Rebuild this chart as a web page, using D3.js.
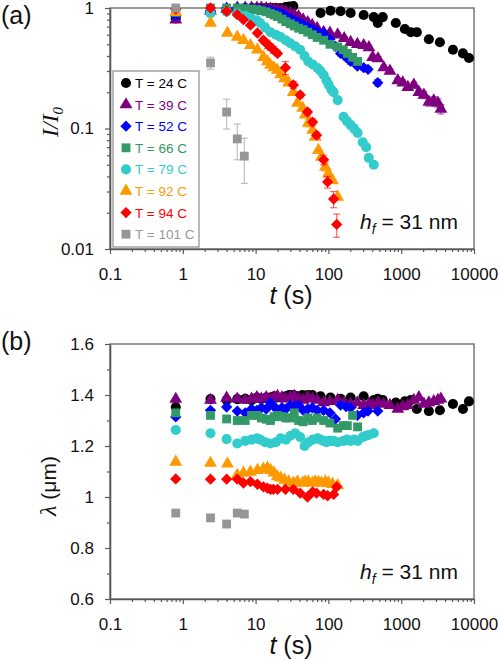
<!DOCTYPE html>
<html><head><meta charset="utf-8">
<script src="https://cdn.jsdelivr.net/npm/d3@7"></script>
<style>
body{margin:0;background:#fff}
svg{display:block}
text{font-family:"Liberation Sans",Arial,sans-serif}
</style>
</head><body>
<svg id="c" width="500" height="661"></svg>
<script>
// ---------- data ----------
const seriesNames = ["T = 24 C","T = 39 C","T = 52 C","T = 66 C","T = 79 C","T = 92 C","T = 94 C","T = 101 C"];
const xTicks = [0.1,1,10,100,1000,10000];
const yTicksTop = [0.01,0.1,1];
const yTicksBottom = [0.6,0.8,1.0,1.2,1.4,1.6];

// T = 24 C
const t24 = [0.8,2.4,4.0,5.6,7.2,8.8,10.4,12,14,16,18,20,23,26,29,33,38,44,52,60,78,107,147,202,305,420,476,558,843,1122,1356,1640,2400,3400,5140,7050,8530];
const I24 = [0.82,0.92,0.97,0.99,1.0,1.0,1.0,1.0,1.0,1.0,1.0,1.0,1.0,1.02,1.03,1.04,null,null,null,null,0.91,0.95,0.94,0.91,0.875,0.84,0.75,0.84,0.75,0.67,0.63,0.63,0.55,0.52,0.45,0.42,0.385];
const L24 = [1.353,1.384,1.38,1.384,1.385,1.38,1.39,1.385,1.39,1.39,1.395,1.39,1.39,1.395,1.40,1.40,1.395,1.40,1.40,1.40,1.395,1.39,1.385,1.39,1.395,1.38,1.385,1.38,1.37,1.375,1.38,1.345,1.337,1.34,1.365,1.345,1.375];

// T = 39 C
const t39 = [0.8,2.4,4.0,5.6,7.2,8.8,10.4,12,14,16,18,20,23,26,30,34,39,45,52,60,70,86,105,134,165,202,250,305,360,406,480,576,700,898,1050,1233,1492,1750,2050,2400,2800,3190,3510];
const I39 = [0.8,0.95,0.98,1.0,1.0,1.0,1.0,1.0,0.99,0.98,0.97,0.96,0.95,0.93,0.91,0.88,0.85,0.8,0.76,0.72,0.68,0.63,0.62,0.60,0.56,0.52,0.5,0.49,0.47,0.39,0.38,0.32,0.3,0.25,0.24,0.22,0.23,0.20,0.19,0.166,0.17,0.163,0.145];
const L39 = [1.384,1.38,1.388,1.385,1.38,1.385,1.39,1.385,1.39,1.385,1.39,1.395,1.39,1.385,1.39,1.395,1.385,1.38,1.39,1.385,1.38,1.37,1.375,1.38,1.37,1.365,1.37,1.36,1.365,1.36,1.37,1.365,1.36,1.345,1.355,1.36,1.38,1.39,1.365,1.37,1.375,1.38,1.385];
const E39 = [0,0,0,0,0,0,0,0,0,0,0,0,0,0,0,0,0,0,0,0,0,0,0,0.02,0.02,0.02,0.02,0.02,0.02,0.015,0.015,0.015,0.012,0.012,0.012,0.012,0.013,0.012,0.013,0.013,0.014,0.013,0.013];

// T = 52 C
const t52 = [0.8,2.4,4.0,5.6,7.2,8.8,10.4,12,14,16,18,20,23,26,30,34,39,45,52,60,70,86,105,125,147,175,202,250,305,350,476];
const I52 = [0.86,0.95,1.0,1.0,1.0,0.99,0.98,0.97,0.96,0.95,0.93,0.92,0.9,0.86,0.82,0.79,0.76,0.73,0.7,0.67,0.64,0.62,0.55,0.48,0.42,0.39,0.36,0.33,0.32,0.31,0.24];
const L52 = [1.314,1.34,1.353,1.337,1.33,1.345,1.34,1.35,1.345,1.37,1.355,1.34,1.35,1.345,1.36,1.355,1.36,1.34,1.345,1.35,1.34,1.34,1.33,1.306,1.36,1.355,1.35,1.32,1.33,1.337,1.337];
const E52 = [0,0,0,0,0,0,0,0,0,0,0,0,0,0,0,0,0,0,0,0,0,0,0,0,0.02,0.02,0.02,0.015,0.015,0.015,0.015];

// T = 66 C
const t66 = [0.8,2.4,4.0,5.6,7.2,8.8,10.4,12,14,16,18,20,23,26,30,34,39,45,52,60,70,86,105,134,160,182,215,252];
const I66 = [0.92,1.0,1.0,1.0,0.99,0.98,0.97,0.95,0.93,0.9,0.875,0.85,0.81,0.77,0.74,0.71,0.68,0.66,0.63,0.6,0.57,0.54,0.5,0.475,0.45,0.42,0.39,0.36];
const L66 = [1.33,1.32,1.306,1.30,1.30,1.32,1.32,1.31,1.305,1.30,1.315,1.32,1.315,1.31,1.31,1.33,1.30,1.295,1.31,1.30,1.31,1.30,1.29,1.27,1.28,1.28,1.32,1.275];

// T = 79 C
const t79 = [0.8,2.4,4.0,5.6,7.2,8.8,10.4,11.6,13.5,16,19,22,26,30,35,41,47,53,61,71,78,86,94,101,110,118,134,162,180,202,225,252,296,330,358,420];
const I79 = [0.97,0.9,0.93,0.9,0.86,0.82,0.79,0.75,0.69,0.63,0.6,0.575,0.54,0.51,0.48,0.45,0.4,0.36,0.34,0.318,0.3,0.278,0.25,0.23,0.21,0.2,0.172,0.125,0.115,0.107,0.1,0.092,0.077,0.07,0.057,0.05];
const L79 = [1.263,1.25,1.227,1.21,1.22,1.225,1.23,1.225,1.215,1.21,1.215,1.23,1.225,1.24,1.25,1.235,1.2,1.215,1.225,1.23,1.225,1.22,1.215,1.22,1.22,1.22,1.215,1.22,1.225,1.22,1.225,1.22,1.235,1.24,1.243,1.25];
const E79 = [0,0,0,0,0,0,0,0,0,0,0,0,0,0,0,0,0.02,0,0,0.015,0,0.015,0,0.012,0.012,0,0.01,0,0.008,0.008,0.008,0,0,0,0,0];

// T = 92 C
const t92 = [0.8,2.4,4.1,5.6,6.8,8.5,10.6,12.8,14.5,16,17.8,19.8,22,25,28.5,33,37.6,44.3,48,53,60.6,66,72.9,80,91,100,114,134];
const I92 = [0.92,0.75,0.62,0.575,0.54,0.49,0.45,0.39,0.36,0.336,0.32,0.306,0.28,0.26,0.24,0.2,0.163,0.148,0.13,0.111,0.097,0.085,0.066,0.058,0.048,0.042,0.037,0.027];
const L92 = [1.137,1.133,1.13,1.086,1.094,1.098,1.105,1.11,1.114,1.105,1.095,1.08,1.075,1.067,1.06,1.055,1.06,1.055,1.06,1.06,1.055,1.06,1.058,1.055,1.06,1.055,1.05,1.045];
const E92 = [0,0,0,0,0,0,0,0,0,0,0,0,0,0,0,0,0,0,0,0.008,0,0,0,0,0.004,0,0,0];

// T = 94 C
const t94 = [0.8,2.4,4.0,5.6,6.8,8.5,10.6,12.8,14.5,16,17.6,20,25.7,33,41,51.6,60.6,68.8,86,97.5,118,130];
const I94 = [0.98,1.0,0.94,0.88,0.8,0.72,0.62,0.54,0.5,0.475,0.45,0.42,0.32,0.23,0.19,0.137,0.113,0.088,0.055,0.036,0.026,0.016];
const L94 = [1.071,1.07,1.07,1.07,1.055,1.06,1.05,1.04,1.035,1.03,1.03,1.03,1.03,1.03,1.015,1.0,1.02,1.015,1.01,1.005,1.01,1.04];
const E94 = [0,0,0,0,0,0,0,0.03,0.04,0.03,0.03,0.02,0.04,0.015,0.01,0.007,0.007,0.005,0.005,0.004,0.004,0.0035];

// T = 101 C
const t101 = [0.8,2.4,4.0,5.6,7.0];
const I101 = [1.0,0.35,0.137,0.082,0.059];
const L101 = [0.937,0.918,0.894,0.937,0.933];
const E101 = [0,0.04,0.038,0.027,0.024];

// ---------- styling ----------
const colors = ["#000000","#7f007f","#0000ff","#339966","#33cccc","#ff9900","#ff0000","#969696"];
const textColors = ["#000000","#7f007f","#0000ff","#339966","#33cccc","#ff9900","#ff0000","#999999"];
const shapes = ["circle","triangle","diamond","square","circle","triangle","diamond","square"];

const series = [
  {t:t24,I:I24,L:L24,E:null},
  {t:t39,I:I39,L:L39,E:E39},
  {t:t52,I:I52,L:L52,E:E52},
  {t:t66,I:I66,L:L66,E:null},
  {t:t79,I:I79,L:L79,E:E79},
  {t:t92,I:I92,L:L92,E:E92},
  {t:t94,I:I94,L:L94,E:E94},
  {t:t101,I:I101,L:L101,E:E101}
].map((s,i)=>Object.assign(s,{name:seriesNames[i],color:colors[i],tcolor:textColors[i],shape:shapes[i]}));

const svg = d3.select("#c");
const L = 110, R = 474;
const x = d3.scaleLog().domain([0.1,10000]).range([L,R]);
const yI = d3.scaleLog().domain([0.01,1]).range([249,8]);
const yL = d3.scaleLinear().domain([0.6,1.6]).range([599,344]);

const diamond = {draw(ctx,size){const r=Math.sqrt(size/2);ctx.moveTo(0,-r);ctx.lineTo(r,0);ctx.lineTo(0,r);ctx.lineTo(-r,0);ctx.closePath();}};
function symPath(shape){
  if(shape==="circle") return d3.symbol(d3.symbolCircle,80)();
  if(shape==="triangle") return d3.symbol(d3.symbolTriangle,72)();
  if(shape==="square") return d3.symbol(d3.symbolSquare,78)();
  return d3.symbol(diamond,64)();
}

const axisColor = "#595959";
const fmt = d3.format("~g");

function minorLog(lo,hi){const a=[];for(let d=lo;d<hi*0.999;d*=10){for(let k=2;k<=9;k++)a.push(d*k);}return a;}

function styleAxis(g){
  g.selectAll(".domain").attr("stroke",axisColor).attr("stroke-width",1.6);
  g.selectAll(".tick line").attr("stroke",axisColor).attr("stroke-width",1.2);
  g.selectAll(".tick text").attr("fill","#111").style("font-size","17px").style("font-family",'"Liberation Sans",Arial,sans-serif');
}

function panel(y, top, bottom, yMajor, yMinor, key){
  svg.append("rect").attr("x",L).attr("y",top).attr("width",R-L).attr("height",bottom-top)
    .attr("fill","none").attr("stroke","#707070").attr("stroke-width",1.4);
  const gx = svg.append("g").attr("transform",`translate(0,${bottom})`)
    .call(d3.axisBottom(x).tickValues(xTicks).tickSize(5).tickSizeOuter(0).tickPadding(14).tickFormat(fmt));
  styleAxis(gx);
  const gxm = svg.append("g").attr("transform",`translate(0,${bottom})`)
    .call(d3.axisBottom(x).tickValues(minorLog(0.1,10000)).tickSize(3).tickSizeOuter(0).tickFormat(""));
  gxm.select(".domain").remove(); styleAxis(gxm);
  const gy = svg.append("g").attr("transform",`translate(${L},0)`)
    .call(d3.axisLeft(y).tickValues(yMajor).tickSize(5).tickSizeOuter(0).tickPadding(11).tickFormat(fmt));
  styleAxis(gy);
  const gym = svg.append("g").attr("transform",`translate(${L},0)`)
    .call(d3.axisLeft(y).tickValues(yMinor).tickSize(3).tickSizeOuter(0).tickFormat(""));
  gym.select(".domain").remove(); styleAxis(gym);

  series.forEach(s=>{
    const data = s.t.map((tt,i)=>({t:tt,v:s[key][i],e:(key==="I"&&s.E)?s.E[i]:0})).filter(d=>d.v!=null);
    const g = svg.append("g");
    const eb = data.filter(d=>d.e>0);
    const ebg = g.append("g").attr("stroke",s.color).attr("stroke-opacity",0.6).attr("stroke-width",1.2);
    eb.forEach(d=>{
      const cx = x(d.t), y1 = y(d.v+d.e), y2 = y(Math.max(d.v-d.e,1e-4));
      ebg.append("line").attr("x1",cx).attr("x2",cx).attr("y1",y1).attr("y2",y2);
      ebg.append("line").attr("x1",cx-3.5).attr("x2",cx+3.5).attr("y1",y1).attr("y2",y1);
      ebg.append("line").attr("x1",cx-3.5).attr("x2",cx+3.5).attr("y1",y2).attr("y2",y2);
    });
    g.selectAll("path.pt").data(data).join("path").attr("class","pt")
      .attr("d",symPath(s.shape))
      .attr("transform",d=>`translate(${x(d.t)},${y(d.v)})`)
      .attr("fill",s.color);
  });

  const xt = svg.append("text").attr("x",291).attr("y",bottom+55).attr("text-anchor","middle").style("font-size","25px").attr("fill","#111");
  xt.append("tspan").attr("font-style","italic").text("t");
  xt.append("tspan").text(" (s)");
  const hf = svg.append("text").attr("x",458).attr("y",bottom-20).attr("text-anchor","end").style("font-size","21px").attr("fill","#111");
  hf.append("tspan").attr("font-style","italic").text("h");
  hf.append("tspan").attr("font-style","italic").attr("dy",5).style("font-size","14px").text("f");
  hf.append("tspan").attr("dy",-5).text(" = 31 nm");
}

panel(yI, 8, 249, yTicksTop, minorLog(0.01,1), "I");
panel(yL, 344, 599, yTicksBottom, [0.7,0.9,1.1,1.3,1.5], "L");

svg.append("text").attr("x",1).attr("y",24).style("font-size","25px").attr("fill","#111").text("(a)");
svg.append("text").attr("x",1).attr("y",350).style("font-size","25px").attr("fill","#111").text("(b)");

const yt1 = svg.append("text").attr("transform","translate(58,122) rotate(-90)").attr("text-anchor","middle")
  .style("font-family",'"Liberation Serif","Times New Roman",serif').style("font-size","24px").attr("font-style","italic").attr("fill","#111");
yt1.append("tspan").text("I/I");
yt1.append("tspan").attr("dy",5).style("font-size","15px").text("0");

const yt2 = svg.append("text").attr("transform","translate(56,486) rotate(-90)").attr("text-anchor","middle").style("font-size","21px").attr("fill","#111");
yt2.append("tspan").style("font-family",'"Liberation Serif","Times New Roman",serif').attr("font-style","italic").style("font-size","24px").text("λ");
yt2.append("tspan").text(" (μm)");

const lg = svg.append("g");
lg.append("rect").attr("x",113).attr("y",71).attr("width",86).attr("height",176).attr("fill","#fff").attr("stroke","#8a8a8a").attr("stroke-width",1.2);
series.forEach((s,i)=>{
  const cy = 83 + i*21.6;
  lg.append("path").attr("d",symPath(s.shape)).attr("transform",`translate(126,${cy})`).attr("fill",s.color);
  lg.append("text").attr("x",135).attr("y",cy+5).style("font-size","13.5px").attr("fill",s.tcolor).text(s.name);
});
</script>
</body></html>
